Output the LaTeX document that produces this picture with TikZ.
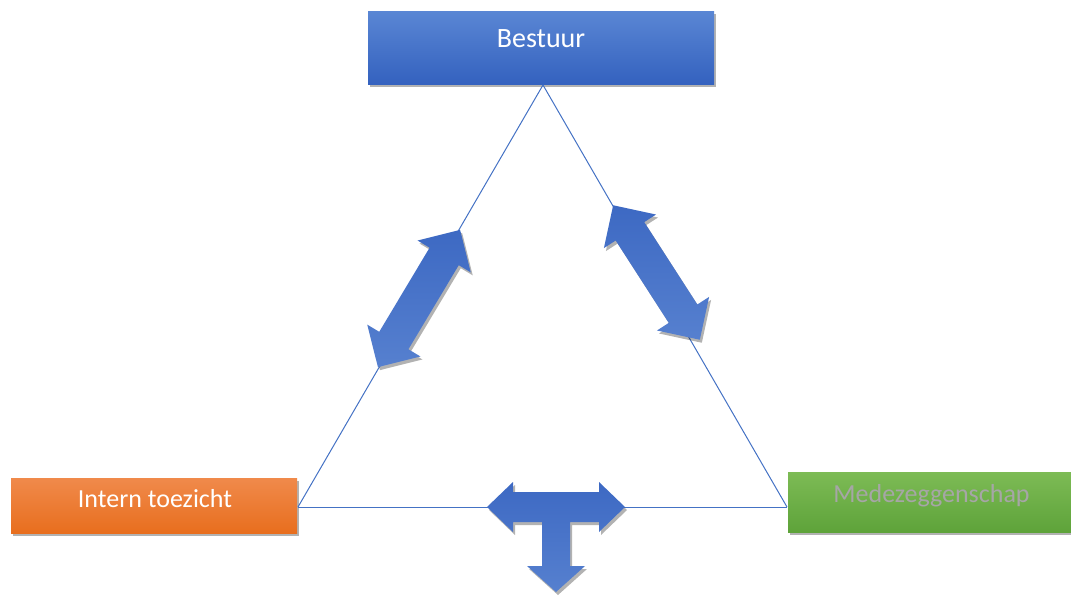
\documentclass[tikz,border=0pt]{standalone}
\usepackage{fontspec}
\setmainfont{Carlito}
\usetikzlibrary{shadows}
\definecolor{tline}{HTML}{4472C4}
\definecolor{btop}{HTML}{5A86D4}
\definecolor{bbot}{HTML}{3462BF}
\definecolor{otop}{HTML}{F08A4B}
\definecolor{obot}{HTML}{E86E1E}
\definecolor{gtop}{HTML}{7DBB55}
\definecolor{gbot}{HTML}{5EA33A}
\definecolor{atop}{HTML}{3D69C3}
\definecolor{abot}{HTML}{5680CF}
\definecolor{mtext}{HTML}{A6A6A6}
\tikzset{
  boxshadow/.style={drop shadow={shadow xshift=2pt,shadow yshift=-3pt,opacity=0.3,fill=black}},
  roleBox/.style={draw=none,inner sep=0pt,boxshadow},
  roleText/.style={inner sep=0pt,font=\fontsize{26}{30}\selectfont,text=white},
  bigArrow/.style={draw=none,top color=atop,bottom color=abot,drop shadow={shadow xshift=2pt,shadow yshift=-3pt,opacity=0.3,fill=black}},
  triLine/.style={draw=tline,line width=1pt}
}
\begin{document}
\begin{tikzpicture}[x=1pt,y=-1pt]
\useasboundingbox (0,0) rectangle (1071,595);
% boxes
\node[roleBox,top color=btop,bottom color=bbot,minimum width=346pt,minimum height=73pt] (bestuur) at (541,47.5) {};
\node[roleBox,top color=otop,bottom color=obot,minimum width=286pt,minimum height=55pt] (intern) at (154,505.5) {};
\node[roleBox,top color=gtop,bottom color=gbot,minimum width=283pt,minimum height=60pt] (mz) at (929.5,502) {};
\node[roleText,font=\fontsize{28}{30}\selectfont] (bestuurT) at ([yshift=9pt]bestuur.center) {Bestuur};
\node[roleText] (internT) at ([xshift=1pt,yshift=7pt]intern.center) {Intern toezicht};
\node[roleText,text=mtext] (mzT) at ([xshift=2pt,yshift=6pt]mz.center) {Medezeggenschap};
% triangle
\coordinate (apex) at (543,85);
\coordinate (lv) at (298,507);
\coordinate (rv) at (787,507);
\draw[triLine] (apex) -- (lv);
\draw[triLine] (apex) -- (rv);
\draw[triLine] (lv) -- (rv);
% left diagonal arrow
\begin{scope}[shift={(419,298.5)},rotate=59.1]
  \path[bigArrow] (-80,0) -- (-49,31) -- (-49,17) -- (49,17) -- (49,31) -- (80,0)
    -- (49,-31) -- (49,-17) -- (-49,-17) -- (-49,-31) -- cycle;
\end{scope}
% right diagonal arrow
\begin{scope}[shift={(656.5,272.5)},rotate=-57.2]
  \path[bigArrow] (-80,0) -- (-49,31) -- (-49,17) -- (49,17) -- (49,31) -- (80,0)
    -- (49,-31) -- (49,-17) -- (-49,-17) -- (-49,-31) -- cycle;
\end{scope}
% T arrow
\path[bigArrow] (487,507) -- (513,482) -- (513,492) -- (599,492) -- (599,482) -- (625,507)
  -- (599,532) -- (599,522) -- (570,522) -- (570,566) -- (585,566) -- (556,592)
  -- (527,566) -- (542,566) -- (542,522) -- (513,522) -- (513,532) -- cycle;
\end{tikzpicture}
\end{document}
